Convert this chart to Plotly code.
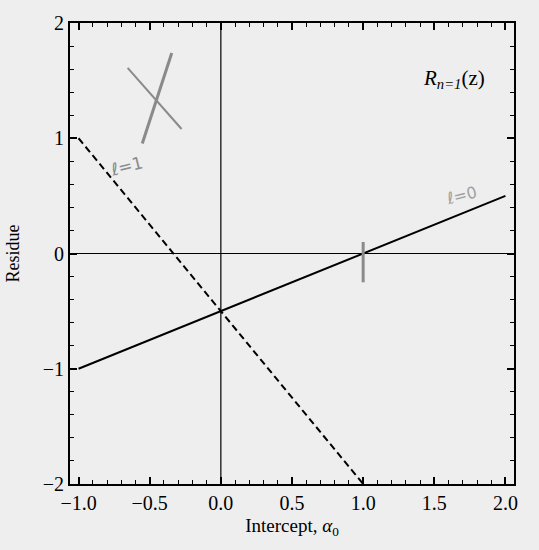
import plotly.graph_objects as go

# data
l0_x = [-1.0, 2.0]
l0_y = [-1.0, 0.5]
l1_x = [-1.0, 1.0]
l1_y = [1.0, -2.0]
x_ticks = [-1.0, -0.5, 0.0, 0.5, 1.0, 1.5, 2.0]
x_tick_labels = ["\u22121.0", "\u22120.5", "0.0", "0.5", "1.0", "1.5", "2.0"]
y_ticks = [-2, -1, 0, 1, 2]
y_tick_labels = ["\u22122", "\u22121", "0", "1", "2"]

# handwritten marks (pencil annotations on the scan)
scribble1_x = [-0.655, -0.276]
scribble1_y = [1.61, 1.08]
scribble2_x = [-0.345, -0.552]
scribble2_y = [1.74, 0.955]
tick_mark_x = [1.0, 1.0]
tick_mark_y = [0.1, -0.25]

BG = "#eeeeee"
PENCIL = "#8a8a8a"
SERIF = "Liberation Serif, Times New Roman, serif"

fig = go.Figure()

# zero lines
fig.add_trace(go.Scatter(x=[-1.06, 2.06], y=[0, 0], mode="lines",
                         line=dict(color="black", width=1.2), hoverinfo="skip", showlegend=False))
fig.add_trace(go.Scatter(x=[0, 0], y=[-2, 2], mode="lines",
                         line=dict(color="black", width=1.2), hoverinfo="skip", showlegend=False))

fig.add_trace(go.Scatter(x=l0_x, y=l0_y, mode="lines", name="l=0",
                         line=dict(color="black", width=2), showlegend=False))
fig.add_trace(go.Scatter(x=l1_x, y=l1_y, mode="lines", name="l=1",
                         line=dict(color="black", width=2, dash="7px,4px"), showlegend=False))

for sx, sy, w in [(scribble1_x, scribble1_y, 2), (scribble2_x, scribble2_y, 3), (tick_mark_x, tick_mark_y, 3)]:
    fig.add_trace(go.Scatter(x=sx, y=sy, mode="lines",
                             line=dict(color=PENCIL, width=w), hoverinfo="skip", showlegend=False))

fig.add_annotation(x=1.64, y=1.51, text="<i>R<sub>n=1</sub></i>(z)", showarrow=False,
                   font=dict(family=SERIF, size=21, color="black"))
fig.add_annotation(x=-0.66, y=0.76, text="\u2113=1", showarrow=False, textangle=-14,
                   font=dict(family="DejaVu Sans", size=17, color=PENCIL))
fig.add_annotation(x=1.69, y=0.5, text="\u2113=0", showarrow=False, textangle=-14,
                   font=dict(family="DejaVu Sans", size=16, color="#a0a0a0"))

axis_common = dict(
    showgrid=False, zeroline=False, showline=True, linecolor="black", linewidth=2,
    mirror="ticks", ticks="inside", ticklen=7, tickwidth=1.5, tickcolor="black",
    tickfont=dict(family=SERIF, size=20, color="black"),
)

fig.update_xaxes(range=[-1.06, 2.06], tickvals=x_ticks, ticktext=x_tick_labels,
                 minor=dict(dtick=0.1, tick0=0, ticks="inside", ticklen=4, tickcolor="black", tickwidth=1),
                 title=dict(text="Intercept, <i>\u03b1</i><sub>0</sub>", font=dict(family=SERIF, size=19, color="black"),
                            standoff=6),
                 **axis_common)
fig.update_yaxes(range=[-2, 2], tickvals=y_ticks, ticktext=y_tick_labels,
                 minor=dict(dtick=0.2, tick0=0, ticks="inside", ticklen=4, tickcolor="black", tickwidth=1),
                 title=dict(text="Residue", font=dict(family=SERIF, size=18, color="black"), standoff=18),
                 **axis_common)

fig.update_layout(
    width=539, height=550,
    margin=dict(l=67, r=25, t=17, b=66),
    paper_bgcolor=BG, plot_bgcolor=BG,
    showlegend=False,
)

fig.write_html("out.html")
